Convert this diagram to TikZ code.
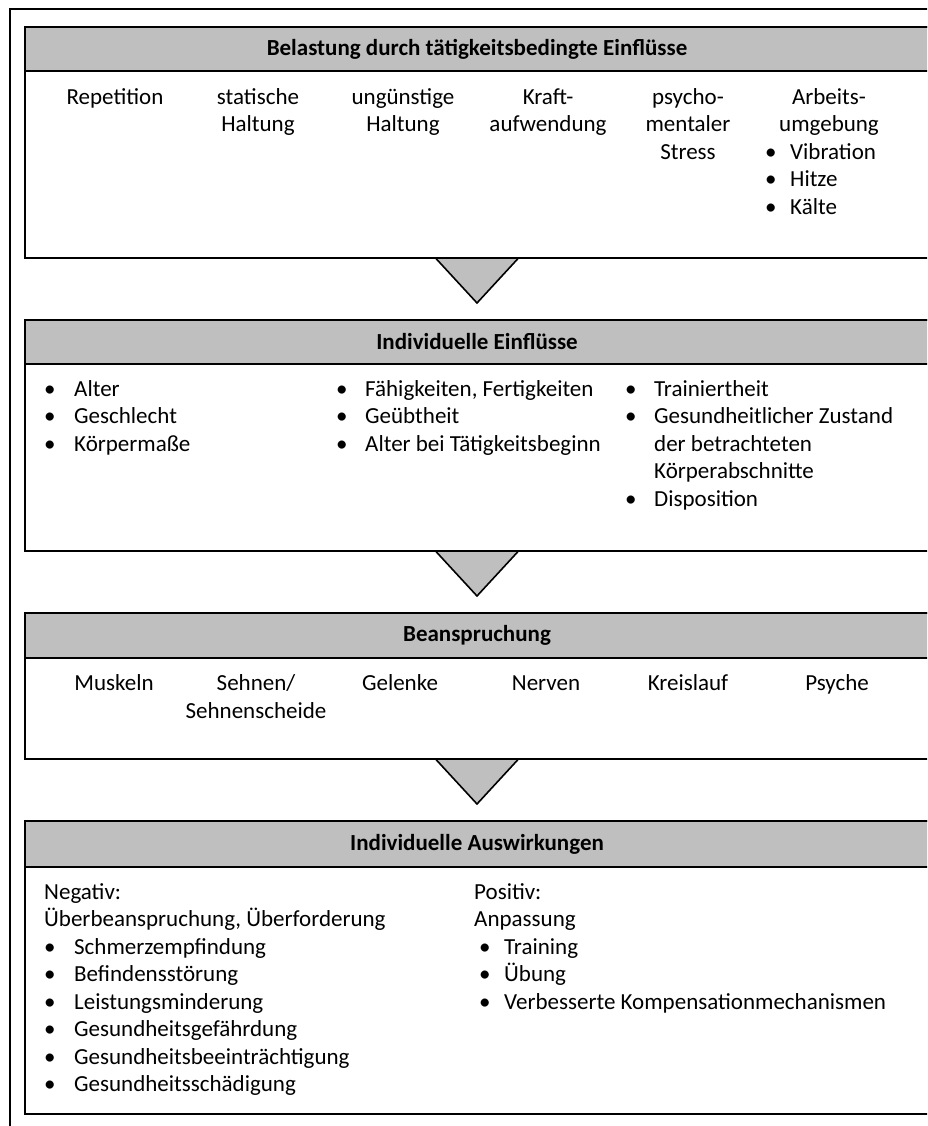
\documentclass[tikz,border=0pt]{standalone}
\usepackage{fontspec}
\setmainfont{Carlito}
\usetikzlibrary{calc}
\definecolor{hdrgray}{HTML}{BFBFBF}
\newcommand\myfs{\fontsize{23}{27.5}\selectfont}
\newcommand\bl[1][29pt]{\makebox[#1][l]{\textbullet}}
\tikzset{
  boxbody/.style={draw=black, line width=2pt, fill=white, anchor=north west,
    minimum width=940pt, inner sep=0pt, outer sep=0pt},
  hdr/.style={draw=black, line width=2pt, fill=hdrgray, anchor=north west,
    minimum width=940pt, minimum height=44pt, inner sep=0pt, outer sep=0pt},
  title/.style={inner sep=0pt, anchor=center, font=\myfs\bfseries},
  tri/.style={draw=black, line width=1.6pt, fill=hdrgray, line join=miter},
  ctr/.style={inner sep=0pt, anchor=north, align=center, font=\myfs},
  lst/.style={inner sep=0pt, anchor=north west, align=left, font=\myfs},
  frame/.style={draw=black, line width=2pt}
}
\begin{document}
\begin{tikzpicture}[x=1pt,y=-1pt]
\useasboundingbox (0,0) rectangle (927,1126);
\clip (0,0) rectangle (927,1126);
\fill[white] (0,0) rectangle (927,1126);
% outer frame
\coordinate (frtl) at (10,9);
\coordinate (frbr) at (960,1160);
\draw[frame] (frtl) rectangle (frbr);

% box 1
\node[boxbody, minimum height=231pt] (b1) at (25,27) {};
\node[hdr] (h1) at (25,27) {};
\node[title] (h1t) at (477,49) {Belastung durch tätigkeitsbedingte Einflüsse};
\node[ctr] (t11) at (115,84.75) {\strut Repetition};
\node[ctr] (t12) at (258,84.75) {\strut statische\\Haltung};
\node[ctr] (t13) at (403,84.75) {\strut ungünstige\\Haltung};
\node[ctr] (t14) at (548,84.75) {\strut Kraft-\\aufwendung};
\node[ctr] (t15) at (688,84.75) {\strut psycho-\\mentaler\\Stress};
\node[ctr] (t16) at (829,84.75) {\strut Arbeits-\\umgebung};
\node[lst] (t17) at (765,139.75) {\strut\bl[25pt]Vibration\\\bl[25pt]Hitze\\\bl[25pt]Kälte};

% box 2
\node[boxbody, minimum height=231pt] (b2) at (25,320) {};
\node[hdr] (h2) at (25,320) {};
\node[title] (h2t) at (477,342) {Individuelle Einflüsse};
\node[lst] (t21) at (44,376.75) {\strut\bl[30pt]Alter\\\bl[30pt]Geschlecht\\\bl[30pt]Körpermaße};
\node[lst] (t22) at (336,376.75) {\strut\bl Fähigkeiten, Fertigkeiten\\\bl Geübtheit\\\bl Alter bei Tätigkeitsbeginn};
\node[lst] (t23) at (625,376.75) {\strut\bl Trainiertheit\\\bl Gesundheitlicher Zustand\\\hspace*{29pt}der betrachteten\\\hspace*{29pt}Körperabschnitte\\\bl Disposition};

% box 3
\node[boxbody, minimum height=146pt] (b3) at (25,613) {};
\node[hdr, minimum height=45pt] (h3) at (25,613) {};
\node[title] (h3t) at (477,635.5) {Beanspruchung};
\node[ctr] (t31) at (114,671.25) {\strut Muskeln};
\node[ctr] (t32) at (256,671.25) {\strut Sehnen/\\Sehnenscheide};
\node[ctr] (t33) at (400,671.25) {\strut Gelenke};
\node[ctr] (t34) at (546,671.25) {\strut Nerven};
\node[ctr] (t35) at (688,671.25) {\strut Kreislauf};
\node[ctr] (t36) at (837,671.25) {\strut Psyche};

% box 4
\node[boxbody, minimum height=293pt] (b4) at (25,821) {};
\node[hdr, minimum height=46pt] (h4) at (25,821) {};
\node[title] (h4t) at (477,844) {Individuelle Auswirkungen};
\node[lst] (t41) at (44,879.75) {\strut Negativ:\\Überbeanspruchung, Überforderung\\\bl[30pt]Schmerzempfindung\\\bl[30pt]Befindensstörung\\\bl[30pt]Leistungsminderung\\\bl[30pt]Gesundheitsgefährdung\\\bl[30pt]Gesundheitsbeeinträchtigung\\\bl[30pt]Gesundheitsschädigung};
\node[lst] (t42) at (474,879.75) {\strut Positiv:\\Anpassung\\\hspace*{5pt}\bl[25pt]Training\\\hspace*{5pt}\bl[25pt]Übung\\\hspace*{5pt}\bl[25pt]Verbesserte Kompensationmechanismen};

% triangles (below the box centres)
\coordinate (c1) at (b1.south -| h1t);
\coordinate (c2) at (b2.south -| h2t);
\coordinate (c3) at (b3.south -| h3t);
\draw[tri] ($(c1)+(-41.5,0)$) -- ($(c1)+(41.5,0)$) -- ($(c1)+(0,45)$) -- cycle;
\draw[tri] ($(c2)+(-41.5,0)$) -- ($(c2)+(41.5,0)$) -- ($(c2)+(0,45)$) -- cycle;
\draw[tri] ($(c3)+(-41.5,0)$) -- ($(c3)+(41.5,0)$) -- ($(c3)+(0,45)$) -- cycle;
\end{tikzpicture}
\end{document}
